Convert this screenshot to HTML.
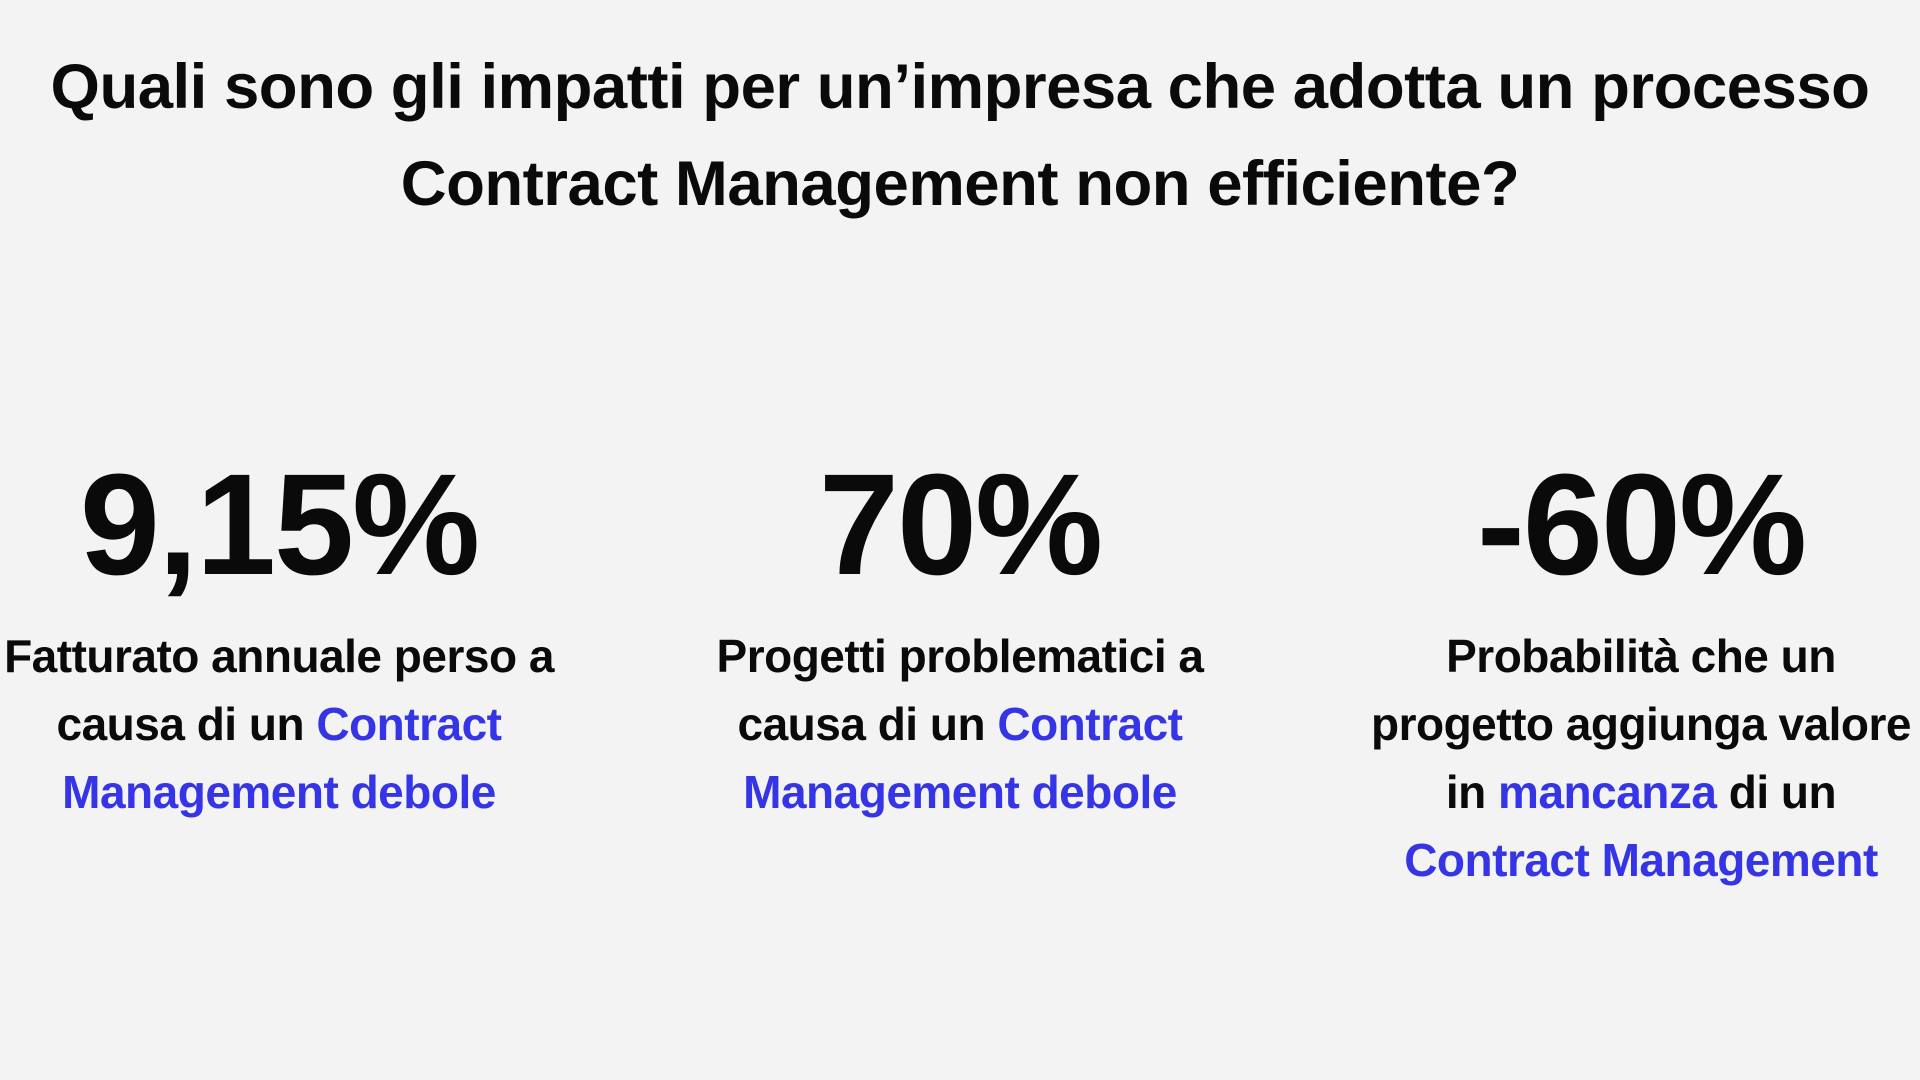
<!DOCTYPE html>
<html><head><meta charset="utf-8"><style>
html,body{margin:0;padding:0}
body{width:1920px;height:1080px;background:#f3f3f3;font-family:"Liberation Sans",sans-serif;color:#0a0a0a;position:relative;overflow:hidden}
.title{position:absolute;top:39px;left:0;width:1920px;text-align:center;font-weight:bold;font-size:63.5px;line-height:97px;letter-spacing:-0.5px}
.col{position:absolute;top:445px;width:640px;text-align:center}
.num{font-weight:bold;font-size:144px;line-height:160px;letter-spacing:-2px}
.desc{font-weight:bold;font-size:46px;line-height:68px;margin-top:17px;letter-spacing:-0.5px}
.b{color:#3535e6}
</style></head><body>
<div class="title">Quali sono gli impatti per un’impresa che adotta un processo<br>Contract Management non efficiente?</div>
<div class="col" style="left:-41px"><div class="num">9,15%</div><div class="desc">Fatturato annuale perso a<br>causa di un <span class="b">Contract</span><br><span class="b">Management debole</span></div></div>
<div class="col" style="left:640px"><div class="num">70%</div><div class="desc">Progetti problematici a<br>causa di un <span class="b">Contract</span><br><span class="b">Management debole</span></div></div>
<div class="col" style="left:1321px"><div class="num">-60%</div><div class="desc">Probabilità che un<br>progetto aggiunga valore<br>in <span class="b">mancanza</span> di un<br><span class="b">Contract Management</span></div></div>
</body></html>
